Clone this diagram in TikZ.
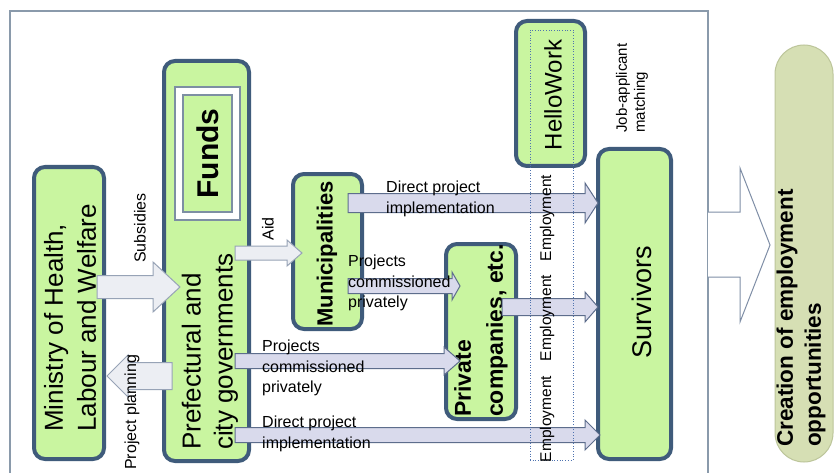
\documentclass[tikz,border=0pt]{standalone}
\usepackage{fontspec}
\setmainfont{Liberation Sans}
\usetikzlibrary{calc}
\definecolor{boxfill}{HTML}{C9F5A0}
\definecolor{boxline}{HTML}{3F5B7B}
\definecolor{frameline}{HTML}{8A9AAB}
\definecolor{fundline}{HTML}{7D8FA3}
\definecolor{lightfill}{HTML}{ECEEF3}
\definecolor{lightline}{HTML}{97A3B6}
\definecolor{darkfill}{HTML}{D9DAEC}
\definecolor{darkline}{HTML}{5D6D8C}
\definecolor{bigline}{HTML}{7F8EA6}
\definecolor{dotline}{HTML}{4F73B0}
\definecolor{crefill}{HTML}{D6DFB4}
\definecolor{creline}{HTML}{BCC59A}
\newcommand\fsz[2]{\fontsize{#1}{#2}\selectfont}
\newcommand\barrow[9][]{%
  \draw[#1] let \p1=(#2), \p2=(#4) in
    ({\x1+(#3pt)},{-(#6pt)+#7pt}) -- ({\x2+(#5pt)-(#9pt)},{-(#6pt)+#7pt})
    -- ({\x2+(#5pt)-(#9pt)},{-(#6pt)+#8pt}) -- ({\x2+(#5pt)},{-(#6pt)})
    -- ({\x2+(#5pt)-(#9pt)},{-(#6pt)-#8pt}) -- ({\x2+(#5pt)-(#9pt)},{-(#6pt)-#7pt})
    -- ({\x1+(#3pt)},{-(#6pt)-#7pt}) -- cycle;}
\tikzset{
  box/.style={draw=boxline, line width=4, fill=boxfill, rounded corners=11,
    inner sep=0, outer sep=0},
  rtext/.style={rotate=90, inner sep=0, align=left},
  lab/.style={inner sep=0, align=left, font=\fsz{16}{20.5}},
  lightarrow/.style={fill=lightfill, draw=lightline, line width=1},
  darkarrow/.style={fill=darkfill, draw=darkline, line width=1},
}
\begin{document}
\begin{tikzpicture}[x=1pt, y=-1pt]
\useasboundingbox[fill=white] (0,0) rectangle (834,473);
% frame
\draw[frameline, line width=1.5] (10,480) -- (10,11) -- (708,11) -- (708,480);
% boxes
\node[box, minimum width=70, minimum height=292] (min) at (69,313) {};
\node[box, minimum width=85, minimum height=400] (pref) at (206.5,261) {};
\node[box, minimum width=69, minimum height=155] (mun) at (327.5,251.5) {};
\node[box, minimum width=70, minimum height=175] (priv) at (481,331.5) {};
\node[box, minimum width=69, minimum height=145] (hw) at (550.5,93.5) {};
\node[box, minimum width=73, minimum height=310] (surv) at (634.5,304) {};
% funds
\node[draw=fundline, line width=1.2, fill=white, minimum width=65, minimum height=133, inner sep=0] (fo) at (207.5,153.5) {};
\node[draw=fundline, line width=1.2, fill=boxfill, minimum width=49, minimum height=117, inner sep=0] (fi) at (fo.center) {};
\node[rtext, font=\bfseries\fsz{30}{34}] (fundst) at (fi.center) {Funds};
% box texts
\node[rtext, anchor=west, font=\fsz{26}{33}] (mint) at (70,432) {Ministry of Health,\\Labour and Welfare};
\node[rtext, anchor=west, font=\fsz{26}{32}] (preft) at (210,450) {Prefectural and\\city governments};
\node[rtext, font=\bfseries\fsz{22}{26}] (munt) at (327,254) {Municipalities};
\node[rtext, anchor=west, font=\bfseries\fsz{23}{32}] (privt) at (481,417) {Private\\companies, etc.};
\node[rtext, font=\fsz{24}{28}] (hwt) at (553,95) {HelloWork};
\node[rtext, font=\fsz{27}{30}] (survt) at (642,302) {Survivors};
% creation
\draw[bigline, line width=1, fill=white] (708,212) -- (740,212) -- (740,168) -- (770,245) -- (740,322) -- (740,277) -- (708,277);
\node[draw=creline, fill=crefill, line width=1, rounded corners=29, minimum width=58, minimum height=417, inner sep=0] (cre) at (804,253.5) {};
\node[rtext, anchor=west, font=\bfseries\fsz{22.5}{28}] (cret) at (801,447) {Creation of employment\\opportunities};
% block arrows
\barrow[lightarrow]{min.east}{-7}{pref.west}{16}{287}{11.5}{25}{27}
\barrow[lightarrow]{pref.west}{8}{min.east}{3}{376}{13.5}{21}{-21}
\barrow[lightarrow]{pref.east}{-14}{mun.west}{9}{253}{7}{13}{15}
\barrow[darkarrow]{mun.east}{-14}{surv.west}{0}{203}{9.5}{20}{13}
\barrow[darkarrow]{mun.east}{-14}{priv.west}{14}{286}{7.5}{14}{8}
\barrow[darkarrow]{pref.east}{-14}{priv.west}{14}{361}{7.5}{14}{16}
\barrow[darkarrow]{priv.east}{-14}{surv.west}{0}{307}{8.5}{15}{13}
\barrow[darkarrow]{pref.east}{-14}{surv.west}{2}{435}{7.5}{15}{15}
% dotted employment strip
\node[draw=dotline, dotted, line width=0.7, minimum width=43, minimum height=430, inner sep=0] (strip) at (551.5,245) {};
% labels
\node[rtext, font=\fsz{16}{20}] (subl) at (140,228) {Subsidies};
\node[rtext, font=\fsz{16}{20}] (aidl) at (268,229) {Aid};
\node[rtext, anchor=west, font=\fsz{16}{20}] (ppl) at (132,470) {Project planning};
\node[rtext, anchor=west, font=\fsz{15}{18}] (jobl) at (632,133) {Job-applicant\\matching};
\node[rtext, font=\fsz{15.5}{18}] (emp1) at (547,218) {Employment};
\node[rtext, font=\fsz{15.5}{18}] (emp2) at (547,318) {Employment};
\node[rtext, font=\fsz{15.5}{18}] (emp3) at (547,419) {Employment};
\node[lab, anchor=north west] (dir1) at (386,181) {Direct project\\implementation};
\node[lab, anchor=north west] (pc1) at (348,255) {Projects\\commissioned\\privately};
\node[lab, anchor=north west] (pc2) at (262,340) {Projects\\commissioned\\privately};
\node[lab, anchor=north west] (dir2) at (262,416) {Direct project\\implementation};
\end{tikzpicture}
\end{document}
